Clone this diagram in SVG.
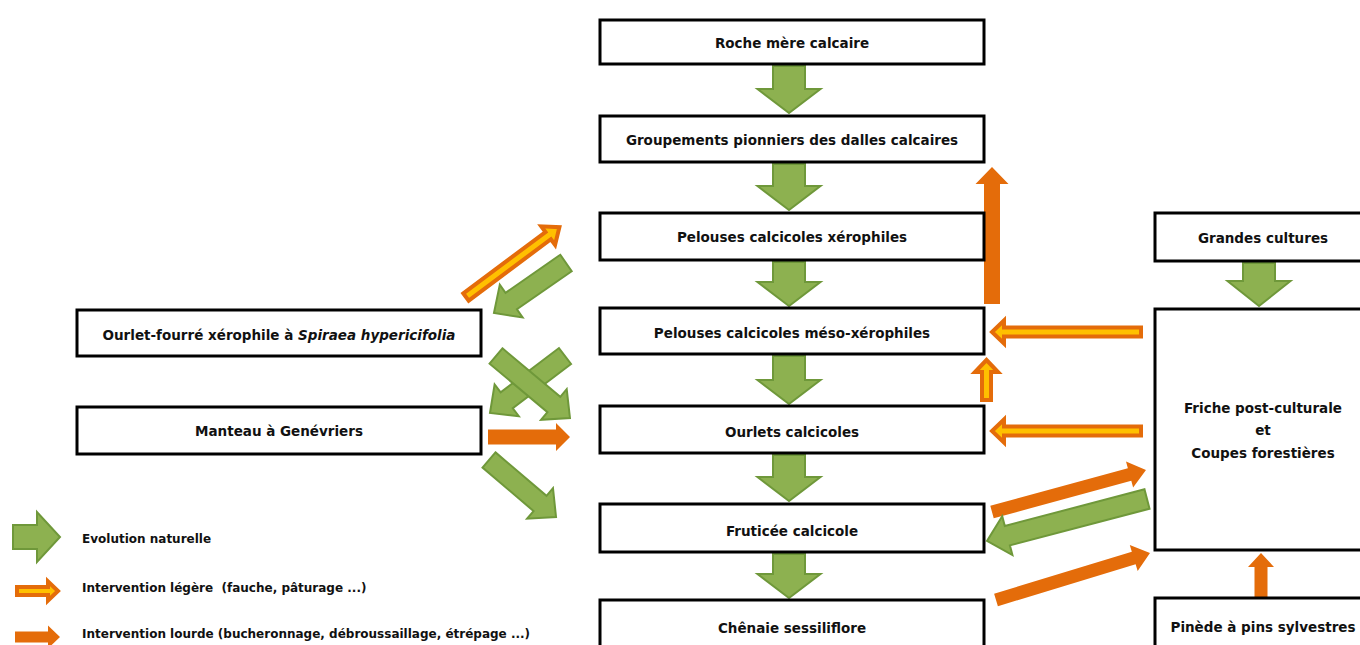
<svg xmlns="http://www.w3.org/2000/svg" width="1360" height="645" viewBox="0 0 1360 645">
<style>
.box{fill:#fff;stroke:#000;stroke-width:3}
.t{font-family:"DejaVu Sans","Liberation Sans",sans-serif;font-weight:bold;font-size:13.5px;text-anchor:middle;fill:#111}
.lg{font-family:"DejaVu Sans","Liberation Sans",sans-serif;font-weight:bold;font-size:12px;fill:#111}
.g{fill:#8DB150;stroke:#6F983A;stroke-width:2;stroke-linejoin:miter}
.h{fill:#E46C0A}
.l{fill:#FFC000;stroke:#E46C0A;stroke-width:4;stroke-linejoin:miter}
</style>
<rect width="1360" height="645" fill="#fff"/>
<g id="connectors">
<polygon class="g" points="773,66 805,66 805,89 820.5,89 789,113 757.5,89 773,89"/>
<polygon class="g" points="773,164 805,164 805,186 820.5,186 789,210 757.5,186 773,186"/>
<polygon class="g" points="773,262 805,262 805,282 820.5,282 789,306 757.5,282 773,282"/>
<polygon class="g" points="773,356 805,356 805,380 820.5,380 789,404 757.5,380 773,380"/>
<polygon class="g" points="773,455 805,455 805,477 820.5,477 789,501 757.5,477 773,477"/>
<polygon class="g" points="773,554 805,554 805,574 820.5,574 789,598 757.5,574 773,574"/>
<polygon class="g" points="1243,263 1275,263 1275,281 1290.5,281 1259,306 1227.5,281 1243,281"/>
<polygon class="l" points="0,-4.5 102.6,-4.5 102.6,-11.5 116.6,0 102.6,11.5 102.6,4.5 0,4.5" transform="translate(466,297) rotate(-36.77)"/>
<polygon class="g" points="0,-10 66.7,-10 66.7,-20 87.7,0 66.7,20 66.7,10 0,10" transform="translate(566,263) rotate(145.22)"/>
<polygon class="g" points="0,-10 73.2,-10 73.2,-20 94.2,0 73.2,20 73.2,10 0,10" transform="translate(565,356) rotate(142.77)"/>
<polygon class="g" points="0,-10 75.5,-10 75.5,-20 96.5,0 75.5,20 75.5,10 0,10" transform="translate(496,356) rotate(39.96)"/>
<polygon class="h" points="488,429.5 556,429.5 556,423 570,437 556,451 556,444.5 488,444.5"/>
<polygon class="g" points="0,-10 67,-10 67,-20 88,0 67,20 67,10 0,10" transform="translate(489,460) rotate(40.39)"/>
<polygon class="h" points="984,304 984,184 975.5,184 992,167 1008.5,184 1000,184 1000,304"/>
<polygon class="l" points="1141,327.5 1004,327.5 1004,320.5 992,332 1004,343.5 1004,336.5 1141,336.5"/>
<polygon class="l" points="1141,426.5 1004,426.5 1004,419.5 992,431 1004,442.5 1004,435.5 1141,435.5"/>
<polygon class="l" points="982,400 982,372 975,372 986.5,360 998,372 991,372 991,400"/>
<polygon class="h" points="0,-6.5 142.6,-6.5 142.6,-13.5 159.6,0 142.6,13.5 142.6,6.5 0,6.5" transform="translate(992,512) rotate(-15.26)"/>
<polygon class="g" points="0,-10 144.4,-10 144.4,-20 165.4,0 144.4,20 144.4,10 0,10" transform="translate(1147,499) rotate(165.29)"/>
<polygon class="h" points="0,-6.5 144,-6.5 144,-13.5 161,0 144,13.5 144,6.5 0,6.5" transform="translate(996,600) rotate(-16.97)"/>
<polygon class="h" points="1254.5,597 1254.5,567 1248,567 1261,553 1274,567 1267.5,567 1267.5,597"/>
</g>
<g id="n-roche"><rect class="box" x="600" y="20" width="384" height="44"/><text class="t" x="792" y="48">Roche mère calcaire</text></g>
<g id="n-groupements"><rect class="box" x="600" y="116" width="384" height="46"/><text class="t" x="792" y="145">Groupements pionniers des dalles calcaires</text></g>
<g id="n-pelouses-xero"><rect class="box" x="600" y="213" width="384" height="47"/><text class="t" x="792" y="242">Pelouses calcicoles xérophiles</text></g>
<g id="n-pelouses-meso"><rect class="box" x="600" y="308" width="384" height="46"/><text class="t" x="792" y="338">Pelouses calcicoles méso-xérophiles</text></g>
<g id="n-ourlets"><rect class="box" x="600" y="406" width="384" height="47"/><text class="t" x="792" y="437">Ourlets calcicoles</text></g>
<g id="n-fruticee"><rect class="box" x="600" y="504" width="384" height="48"/><text class="t" x="792" y="536">Fruticée calcicole</text></g>
<g id="n-chenaie"><rect class="box" x="600" y="600" width="384" height="60"/><text class="t" x="792" y="633">Chênaie sessiliflore</text></g>
<g id="n-ourlet-fourre"><rect class="box" x="77" y="310" width="404" height="46"/><text class="t" x="279" y="340">Ourlet-fourré xérophile à <tspan font-style="italic">Spiraea hypericifolia</tspan></text></g>
<g id="n-manteau"><rect class="box" x="77" y="407" width="404" height="47"/><text class="t" x="279" y="436">Manteau à Genévriers</text></g>
<g id="n-grandes-cultures"><rect class="box" x="1155" y="213" width="220" height="48"/><text class="t" x="1263" y="243">Grandes cultures</text></g>
<g id="n-friche"><rect class="box" x="1155" y="309" width="220" height="241"/><text class="t" x="1263" y="413">Friche post-culturale</text><text class="t" x="1263" y="435">et</text><text class="t" x="1263" y="458">Coupes forestières</text></g>
<g id="n-pinede"><rect class="box" x="1155" y="598" width="220" height="60"/><text class="t" x="1263" y="632">Pinède à pins sylvestres</text></g>
<g id="legend">
<polygon class="g" points="13,525 37,525 37,512 60,537 37,562 37,549 13,549"/>
<text class="lg" x="82" y="543">Evolution naturelle</text>
<polygon class="l" points="17,587 48,587 48,581.5 58,591 48,600.5 48,595 17,595"/>
<text class="lg" x="82" y="592" xml:space="preserve">Intervention légère  (fauche, pâturage ...)</text>
<polygon class="h" points="15,631.5 48,631.5 48,625.5 60,637 48,648.5 48,642.5 15,642.5"/>
<text class="lg" x="82" y="638">Intervention lourde (bucheronnage, débroussaillage, étrépage ...)</text>
</g>
</svg>
